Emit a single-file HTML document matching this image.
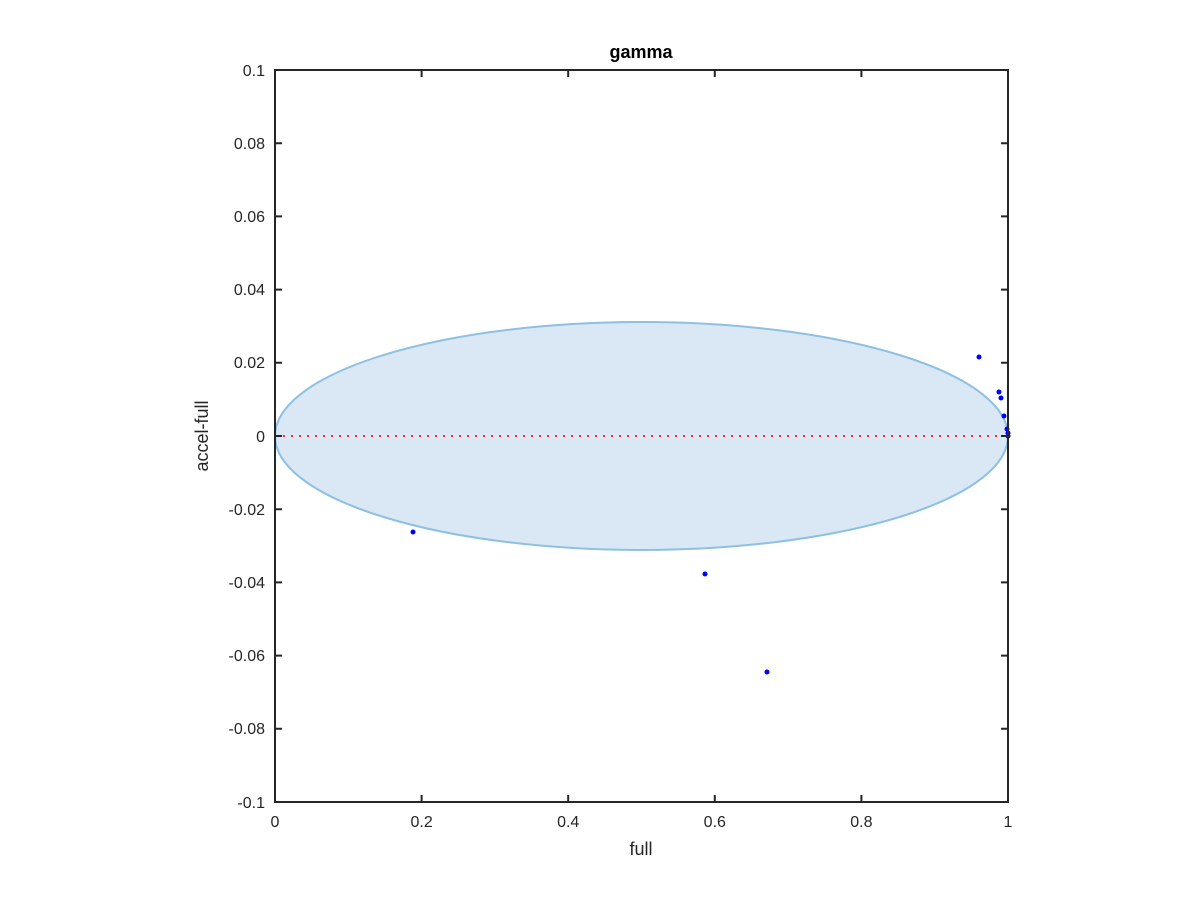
<!DOCTYPE html>
<html><head><style>body{margin:0;background:#fff}</style></head><body>
<svg width="1200" height="900" xmlns="http://www.w3.org/2000/svg" font-family="Liberation Sans, sans-serif">
<rect width="1200" height="900" fill="#fff"/>
<ellipse cx="641.5" cy="436" rx="366.5" ry="114" fill="#d9e8f4" stroke="#8ec0e2" stroke-width="2"/>
<line x1="275" y1="436" x2="1008" y2="436" stroke="#ff2a2a" stroke-width="2" stroke-dasharray="2,6"/>
<g fill="#0000ff">
<circle cx="413" cy="532" r="2.5"/><circle cx="705" cy="574" r="2.5"/><circle cx="767" cy="672" r="2.5"/>
<circle cx="979" cy="357" r="2.5"/><circle cx="999" cy="392" r="2.5"/><circle cx="1001" cy="398" r="2.5"/>
<circle cx="1004" cy="416" r="2.5"/><circle cx="1007" cy="429" r="2.5"/><circle cx="1008" cy="433" r="2.5"/><circle cx="1008" cy="436" r="2.5"/>
</g>
<g stroke="#262626" stroke-width="2" fill="none">
<rect x="275" y="70" width="733" height="732"/>
<path d="M275,802v-7M421.6,802v-7M568.2,802v-7M714.8,802v-7M861.4,802v-7M1008,802v-7M275,70v7M421.6,70v7M568.2,70v7M714.8,70v7M861.4,70v7M1008,70v7"/>
<path d="M275,70h7M275,143.2h7M275,216.4h7M275,289.6h7M275,362.8h7M275,436h7M275,509.2h7M275,582.4h7M275,655.6h7M275,728.8h7M275,802h7M1008,70h-7M1008,143.2h-7M1008,216.4h-7M1008,289.6h-7M1008,362.8h-7M1008,436h-7M1008,509.2h-7M1008,582.4h-7M1008,655.6h-7M1008,728.8h-7M1008,802h-7"/>
</g>
<g font-size="16" fill="#262626" text-anchor="middle">
<text x="275" y="827">0</text><text x="421.6" y="827">0.2</text><text x="568.2" y="827">0.4</text><text x="714.8" y="827">0.6</text><text x="861.4" y="827">0.8</text><text x="1008" y="827">1</text>
</g>
<g font-size="16" fill="#262626" text-anchor="end">
<text x="265" y="76">0.1</text><text x="265" y="149">0.08</text><text x="265" y="222">0.06</text><text x="265" y="295">0.04</text><text x="265" y="368">0.02</text><text x="265" y="442">0</text><text x="265" y="515">-0.02</text><text x="265" y="588">-0.04</text><text x="265" y="661">-0.06</text><text x="265" y="734">-0.08</text><text x="265" y="808">-0.1</text>
</g>
<text x="641" y="855" font-size="18" fill="#262626" text-anchor="middle">full</text>
<text transform="translate(208,436) rotate(-90)" font-size="18" fill="#262626" text-anchor="middle">accel-full</text>
<text x="641" y="58" font-size="18" font-weight="bold" fill="#000" text-anchor="middle">gamma</text>
</svg>
</body></html>
